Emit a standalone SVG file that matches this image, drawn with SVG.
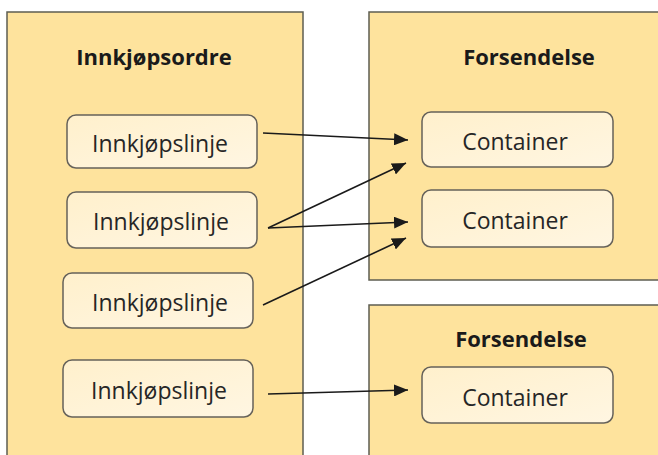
<svg xmlns="http://www.w3.org/2000/svg" width="658" height="455" viewBox="0 0 658 455">
  <style>
    .group { fill: #fee39d; stroke: #5e5e52; stroke-width: 1.5; }
    .item { fill: url(#itemFill); stroke: #66625a; stroke-width: 1.5; }
    .title { font-family: "Open Sans", "Liberation Sans", sans-serif; font-weight: bold; font-size: 22px; fill: #1a1a1a; text-anchor: middle; }
    .label { font-family: "Open Sans", "Liberation Sans", sans-serif; font-size: 23px; fill: #262626; text-anchor: middle; }
    .link { fill: none; stroke: #1a1a1a; stroke-width: 1.6; marker-end: url(#arrow); }
  </style>
  <defs>
    <linearGradient id="itemFill" x1="0" y1="0" x2="1" y2="1">
      <stop offset="0" stop-color="#fff0cc"/>
      <stop offset="1" stop-color="#fff6e2"/>
    </linearGradient>
    <marker id="arrow" viewBox="0 0 14 12" refX="14" refY="6" markerWidth="14" markerHeight="12" markerUnits="userSpaceOnUse" orient="auto">
      <path d="M0,0 L14,6 L0,12 z" fill="#1a1a1a"/>
    </marker>
  </defs>

  <rect width="658" height="455" fill="#ffffff"/>

  <!-- Purchase order with its lines -->
  <g id="innkjopsordre">
    <rect class="group" x="7" y="12" width="296" height="460"/>
    <text class="title" x="154" y="65">Innkjøpsordre</text>
  </g>
  <g id="linje1">
    <rect class="item" x="67" y="115" width="190" height="53" rx="9"/>
    <text class="label" x="160" y="152">Innkjøpslinje</text>
  </g>
  <g id="linje2">
    <rect class="item" x="67" y="192" width="190" height="56" rx="9"/>
    <text class="label" x="161" y="230">Innkjøpslinje</text>
  </g>
  <g id="linje3">
    <rect class="item" x="63" y="273" width="190" height="55" rx="9"/>
    <text class="label" x="160" y="311">Innkjøpslinje</text>
  </g>
  <g id="linje4">
    <rect class="item" x="63" y="360" width="190" height="57" rx="9"/>
    <text class="label" x="159" y="399">Innkjøpslinje</text>
  </g>

  <!-- First shipment -->
  <g id="forsendelse1">
    <rect class="group" x="369" y="12" width="300" height="268"/>
    <text class="title" x="529" y="65">Forsendelse</text>
  </g>
  <g id="container1">
    <rect class="item" x="422" y="112" width="191" height="55" rx="9"/>
    <text class="label" x="515" y="150">Container</text>
  </g>
  <g id="container2">
    <rect class="item" x="422" y="190" width="191" height="57" rx="9"/>
    <text class="label" x="515" y="229">Container</text>
  </g>

  <!-- Second shipment -->
  <g id="forsendelse2">
    <rect class="group" x="369" y="305" width="300" height="170"/>
    <text class="title" x="521" y="347">Forsendelse</text>
  </g>
  <g id="container3">
    <rect class="item" x="422" y="367" width="191" height="56" rx="9"/>
    <text class="label" x="515" y="406">Container</text>
  </g>

  <!-- Line to container assignments -->
  <g id="connectors">
    <line class="link" x1="263" y1="133" x2="408" y2="140"/>
    <line class="link" x1="268" y1="228" x2="406" y2="163"/>
    <line class="link" x1="268" y1="228" x2="408" y2="222"/>
    <line class="link" x1="263" y1="305" x2="406" y2="238"/>
    <line class="link" x1="268" y1="394" x2="408" y2="390"/>
  </g>
</svg>
